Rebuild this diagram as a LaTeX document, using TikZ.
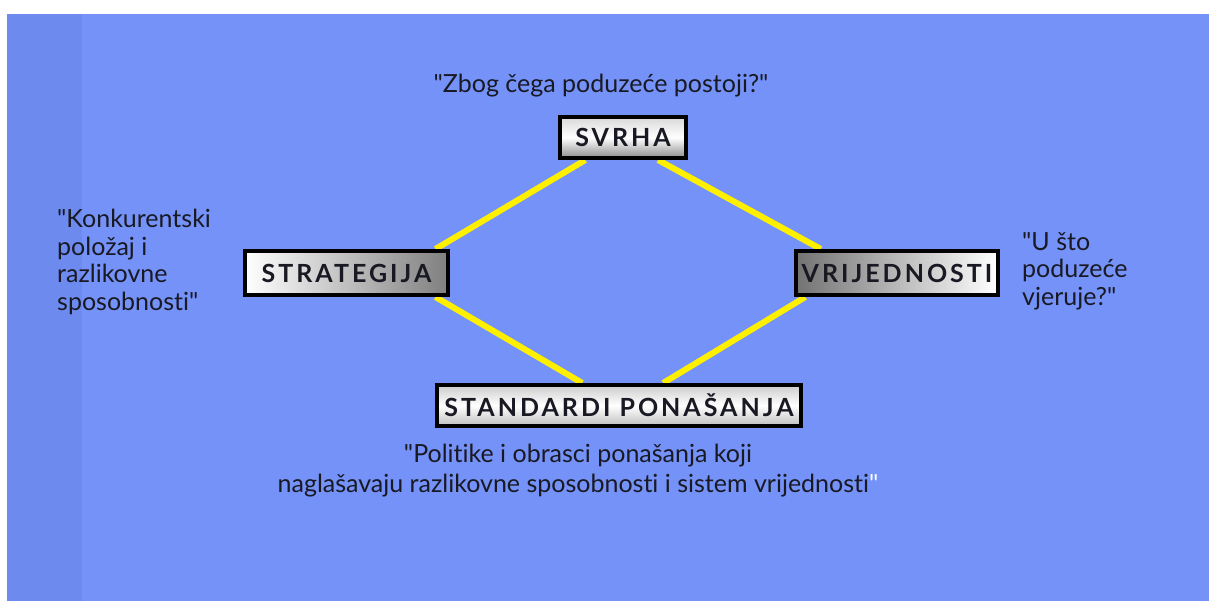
\documentclass[tikz,border=0pt]{standalone}
\usepackage{fontspec}
\setmainfont{Lato}[Ligatures={TeXOff,NoCommon}]
\newfontfamily\boxfont{Lato}[LetterSpace=12]
\usetikzlibrary{calc}
\pgfdeclarelayer{bg}
\pgfdeclarelayer{lines}
\pgfsetlayers{bg,lines,main}
\newcommand{\dq}{\symbol{34}}
\definecolor{bgblue}{RGB}{116,146,247}
\definecolor{stripblue}{RGB}{109,138,239}
\definecolor{lineyellow}{RGB}{255,240,0}
\definecolor{txt}{RGB}{25,25,35}
\tikzset{
  box/.style={draw=black, line width=4pt, inner sep=0pt, text=txt,
    font=\boxfont\fontsize{25}{28}\selectfont\bfseries},
  link/.style={draw=lineyellow, line width=6pt},
  note/.style={text=txt, inner sep=0pt, font=\fontsize{25}{27.5}\selectfont}
}
\begin{document}
\begin{tikzpicture}[x=1pt,y=-1pt]
\useasboundingbox (0,0) rectangle (1209,601);
\begin{pgfonlayer}{bg}
\fill[white] (0,0) rectangle (1209,601);
\fill[bgblue] (7,14) rectangle (1209,601);
\fill[stripblue] (7,14) rectangle (82,601);
\end{pgfonlayer}

\node[box, minimum width=126pt, minimum height=41pt,
  top color=white!85!black, bottom color=white!55!black, middle color=white]
  (svrha) at (623,137.5) {SVRHA};
\node[box, minimum width=203pt, minimum height=44pt,
  left color=white, right color=white!50!black]
  (strat) at (346.5,273) {STRATEGIJA};
\node[box, minimum width=202pt, minimum height=44pt,
  left color=white!45!black, right color=white]
  (vrij) at (897,273) {VRIJEDNOSTI};
\node[box, minimum width=364pt, minimum height=41pt,
  top color=white!80!black, bottom color=white!75!black, middle color=white]
  (stand) at (619,405.5) {STANDARDI PONAŠANJA};

\begin{pgfonlayer}{lines}
\draw[link] ($(svrha.south west)!0.21!(svrha.south east)$) -- ($(strat.north west)!0.93!(strat.north east)$);
\draw[link] ($(svrha.south west)!0.77!(svrha.south east)$) -- ($(vrij.north west)!0.13!(vrij.north east)$);
\draw[link] ($(strat.south west)!0.93!(strat.south east)$) -- ($(stand.north west)!0.40!(stand.north east)$);
\draw[link] ($(vrij.south west)!0.055!(vrij.south east)$) -- ($(stand.north west)!0.62!(stand.north east)$);
\end{pgfonlayer}

\node[note] (q1) at (601,86) {\dq Zbog čega poduzeće postoji?\dq};
\node[note, align=left, anchor=north west] (q2) at (57,209)
  {\dq Konkurentski\\položaj i\\razlikovne\\sposobnosti\dq};
\node[note, align=left, anchor=north west] (q3) at (1022,232)
  {\dq U što\\poduzeće\\vjeruje?\dq};
\node[note, align=center, anchor=north, font=\fontsize{25}{30}\selectfont] (q4) at (578,444)
  {\dq Politike i obrasci ponašanja koji\\naglašavaju razlikovne sposobnosti i sistem vrijednosti\textcolor{white}{\dq}};
\end{tikzpicture}
\end{document}
